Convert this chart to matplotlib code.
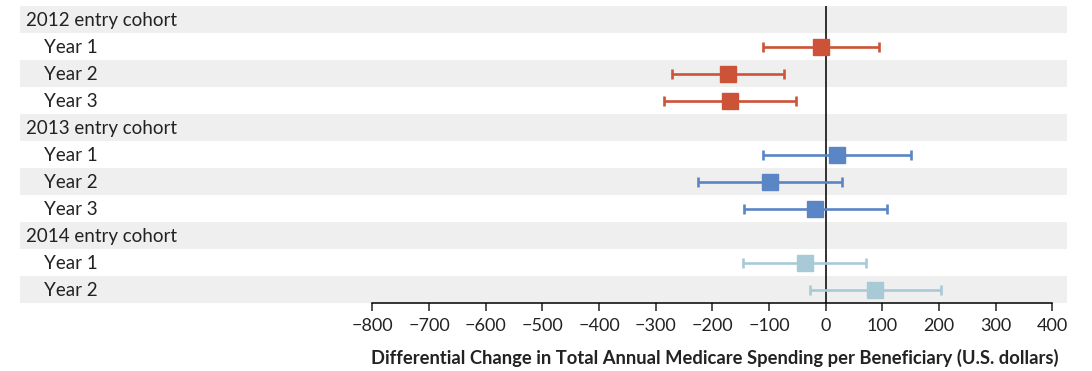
import numpy as np
import matplotlib.pyplot as plt

# Differential change per beneficiary, with 95% confidence limits (U.S. dollars)
row_labels = ["2012 entry cohort", "Year 1", "Year 2", "Year 3",
              "2013 entry cohort", "Year 1", "Year 2", "Year 3",
              "2014 entry cohort", "Year 1", "Year 2"]
is_header = [True, False, False, False, True, False, False, False, True, False, False]

cohort_2012_est = [-8, -173, -169]
cohort_2012_lo = [-110, -272, -286]
cohort_2012_hi = [95, -74, -52]

cohort_2013_est = [20, -98, -18]
cohort_2013_lo = [-110, -225, -144]
cohort_2013_hi = [151, 29, 108]

cohort_2014_est = [-37, 87]
cohort_2014_lo = [-146, -28]
cohort_2014_hi = [71, 204]

xticks = list(range(-800, 401, 100))

plt.rcParams['font.family'] = ['Lato', 'DejaVu Sans']

fig = plt.figure(figsize=(10.92, 3.71), dpi=100)
ax = fig.add_axes([20 / 1092, (371 - 303) / 371, 1047 / 1092, 297 / 371])

n = len(row_labels)
ax.set_ylim(n - 0.5, -0.5)
ax.set_xlim(-1422, 426)

# alternating row shading
for i in range(0, n, 2):
    ax.axhspan(i - 0.5, i + 0.5, color="#efefef", lw=0, zorder=0)

ax.axvline(0, color="#222222", lw=1.3, zorder=1)

groups = [
    (cohort_2012_est, cohort_2012_lo, cohort_2012_hi, [1, 2, 3], "#cd5338"),
    (cohort_2013_est, cohort_2013_lo, cohort_2013_hi, [5, 6, 7], "#5a86c5"),
    (cohort_2014_est, cohort_2014_lo, cohort_2014_hi, [9, 10], "#a8cad6"),
]
for est, lo, hi, rows, col in groups:
    est = np.array(est)
    err = [est - np.array(lo), np.array(hi) - est]
    ax.errorbar(est, rows, xerr=err, fmt="s", color=col, ms=11,
                elinewidth=1.9, capsize=3.5, capthick=1.9, zorder=3)

# row labels, sub-rows indented under each cohort
for i, (lab, hdr) in enumerate(zip(row_labels, is_header)):
    x = 0.0055 if hdr else 0.023
    ax.text(x, i + 0.25, lab, transform=ax.get_yaxis_transform(), va="baseline",
            ha="left", fontsize=13.5, color="#222222")

for s in ["top", "right", "left"]:
    ax.spines[s].set_visible(False)
ax.spines["bottom"].set_bounds(-800, 400)
ax.spines["bottom"].set_linewidth(1.1)
ax.set_yticks([])
ax.set_xticks(xticks)
ax.tick_params(axis="x", direction="out", length=6, width=1.1, labelsize=13,
               pad=5, colors="#222222")
ax.set_xlabel("Differential Change in Total Annual Medicare Spending per Beneficiary (U.S. dollars)",
              fontsize=13.2, fontweight="bold", color="#222222")
ax.xaxis.label.set_va("center")
ax.xaxis.set_label_coords(0.664, -0.185)

fig.savefig("out.png", dpi=100)
